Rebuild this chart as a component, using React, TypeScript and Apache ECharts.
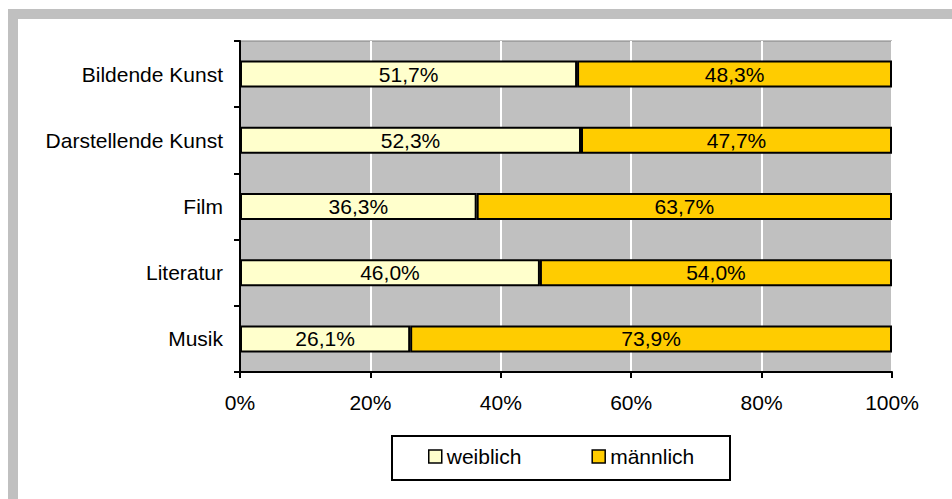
import React, { useEffect, useRef } from "react";
import * as echarts from "echarts";

const categories = ["Bildende Kunst", "Darstellende Kunst", "Film", "Literatur", "Musik"];
const weiblich = [51.7, 52.3, 36.3, 46.0, 26.1];
const maennlich = [48.3, 47.7, 63.7, 54.0, 73.9];
const seriesNames = ["weiblich", "männlich"];

const fmt = (v: number) => v.toFixed(1).replace(".", ",") + "%";

export default function App() {
  const ref = useRef<HTMLDivElement>(null);
  useEffect(() => {
    if (!ref.current) return;
    const chart = echarts.init(ref.current, null, { renderer: "svg" });
    const font = "Arial, 'Liberation Sans', sans-serif";
    const fs = 21;
    chart.setOption({
      animation: false,
      backgroundColor: "#ffffff",
      textStyle: { fontFamily: font },
      grid: {
        left: 240,
        top: 41,
        width: 652,
        height: 331,
        show: true,
        backgroundColor: "#c0c0c0",
        borderColor: "#808080",
        borderWidth: 1,
      },
      graphic: [
        { type: "rect", shape: { x: 8, y: 9, width: 944, height: 10 }, style: { fill: "#c0c0c0" }, silent: true },
        { type: "rect", shape: { x: 8, y: 9, width: 10, height: 490 }, style: { fill: "#c0c0c0" }, silent: true },
        {
          type: "rect",
          shape: { x: 392, y: 436, width: 338, height: 44 },
          style: { fill: "none", stroke: "#000", lineWidth: 2 },
          silent: true,
        },
      ],
      legend: {
        left: 428,
        top: 446,
        itemWidth: 13,
        itemHeight: 13,
        itemGap: 70,
        icon: "rect",
        data: seriesNames,
        textStyle: { fontSize: fs, color: "#000", fontFamily: font },
        itemStyle: { borderColor: "#000", borderWidth: 1.5 },
        padding: 0,
      },
      xAxis: {
        type: "value",
        min: 0,
        max: 100,
        interval: 20,
        axisLine: { show: true, lineStyle: { color: "#000", width: 2 } },
        axisTick: { show: true, length: 6, lineStyle: { color: "#000", width: 2 } },
        axisLabel: { formatter: "{value}%", fontSize: fs, color: "#000", margin: 20, fontFamily: font },
        splitLine: { show: true, lineStyle: { color: "#ffffff", width: 2 } },
      },
      yAxis: {
        type: "category",
        inverse: true,
        data: categories,
        axisLine: { show: true, lineStyle: { color: "#000", width: 2 } },
        axisTick: { show: true, length: 6, interval: 0, lineStyle: { color: "#000", width: 2 } },
        axisLabel: { fontSize: fs, color: "#000", margin: 17, fontFamily: font },
      },
      series: [
        {
          name: seriesNames[0],
          type: "bar",
          stack: "total",
          barWidth: 27,
          data: weiblich,
          itemStyle: { color: "#ffffcc", borderColor: "#000", borderWidth: 2 },
          label: {
            show: true,
            position: "inside",
            color: "#000",
            fontSize: fs,
            fontFamily: font,
            formatter: (p: any) => fmt(p.value),
          },
        },
        {
          name: seriesNames[1],
          type: "bar",
          stack: "total",
          barWidth: 27,
          data: maennlich,
          itemStyle: { color: "#ffcc00", borderColor: "#000", borderWidth: 2 },
          label: {
            show: true,
            position: "inside",
            color: "#000",
            fontSize: fs,
            fontFamily: font,
            formatter: (p: any) => fmt(p.value),
          },
        },
      ],
    });
    return () => chart.dispose();
  }, []);
  return (
    <div
      ref={ref}
      style={{ position: "absolute", left: 0, top: 0, width: 952, height: 499 }}
    />
  );
}
